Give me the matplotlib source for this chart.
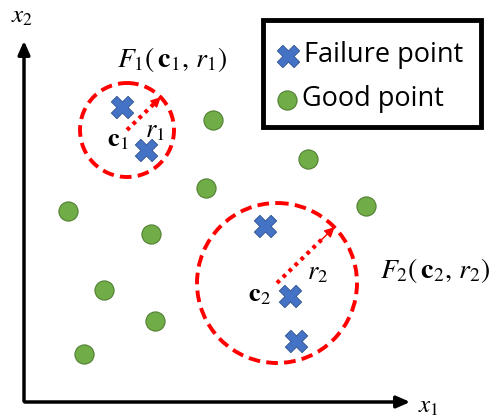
import matplotlib.pyplot as plt
from matplotlib.patches import Circle, Rectangle

plt.rcParams['mathtext.fontset'] = 'stix'

# failure samples (x1, x2) and good samples, in drawing units
fail_x = [122, 146, 265, 290, 296]
fail_y = [107, 150, 226, 296, 341]
good_x = [213, 308, 206, 68, 151, 366, 104, 155, 84]
good_y = [120, 159, 188, 211, 234, 206, 290, 321, 354]

# failure regions: centres and radii
reg_cx = [127, 277]
reg_cy = [130, 283]
reg_r = [47, 80]

fig = plt.figure(figsize=(4.93, 4.19), dpi=100)
ax = fig.add_axes([0, 0, 1, 1])
ax.set_xlim(0, 493)
ax.set_ylim(419, 0)
ax.set_axis_off()

red = "#ff0000"
blue = "#4472c4"
green = "#70ad47"

# axes arrows
ax.annotate("", (413, 402), (22, 402),
            arrowprops=dict(arrowstyle='-|>,head_length=0.8,head_width=0.35', lw=2.5, color="black"))
ax.annotate("", (24, 38), (24, 404),
            arrowprops=dict(arrowstyle='-|>,head_length=0.8,head_width=0.35', lw=2.5, color="black"))
ax.text(428, 406, r"$x_1$", fontsize=18, ha="center", va="center")
ax.text(22, 16, r"$x_2$", fontsize=18, ha="center", va="center")

# regions with dotted radius arrows
for cx, cy, r in zip(reg_cx, reg_cy, reg_r):
    ax.add_patch(Circle((cx, cy), r, fill=False, ec=red, lw=2.8, ls=(0, (3, 1.6))))
    tx = cx + r * 0.72
    ty = cy - r * 0.70
    # dotted shaft stops short of the head
    ax.plot([cx, cx + (tx - cx) * 0.8], [cy, cy + (ty - cy) * 0.8],
            color=red, lw=3, ls=(0, (0.9, 1.1)), solid_capstyle="butt")
    ax.annotate("", (tx, ty), (cx + (tx - cx) * 0.75, cy + (ty - cy) * 0.75),
                arrowprops=dict(arrowstyle='-|>,head_length=0.6,head_width=0.3', lw=1,
                                color=red, shrinkA=0, shrinkB=0))

ax.scatter(good_x, good_y, s=190, marker="o", c=green, edgecolors="#507e32", linewidths=0.8, zorder=3)
ax.scatter(fail_x, fail_y, s=260, marker="X", c=blue, edgecolors="#2f528f", linewidths=0.6, zorder=3)

# region labels
ax.text(118, 139, r"$\mathbf{c}_1$", fontsize=19, ha="center", va="center")
ax.text(155, 130, r"$r_1$", fontsize=19, ha="center", va="center")
ax.text(172, 60, r"$F_1\left(\,\mathbf{c}_1,\, r_1\right)$", fontsize=20, ha="center", va="center")
ax.text(259, 294, r"$\mathbf{c}_2$", fontsize=19, ha="center", va="center")
ax.text(318, 272, r"$r_2$", fontsize=19, ha="center", va="center")
ax.text(435, 270, r"$F_2\left(\,\mathbf{c}_2,\, r_2\right)$", fontsize=20, ha="center", va="center")

# legend box
ax.add_patch(Rectangle((263, 20), 218, 107, fill=False, ec="black", lw=3.5, zorder=4))
ax.scatter([288], [56], s=260, marker="X", c=blue, edgecolors="#2f528f", linewidths=0.6, zorder=5)
ax.scatter([287], [100], s=190, marker="o", c=green, edgecolors="#507e32", linewidths=0.8, zorder=5)
ax.text(304, 55, "Failure point", fontsize=19.5, family="Open Sans", ha="left", va="center")
ax.text(302, 99, "Good point", fontsize=19.5, family="Open Sans", ha="left", va="center")

fig.savefig("out.png", dpi=100)
